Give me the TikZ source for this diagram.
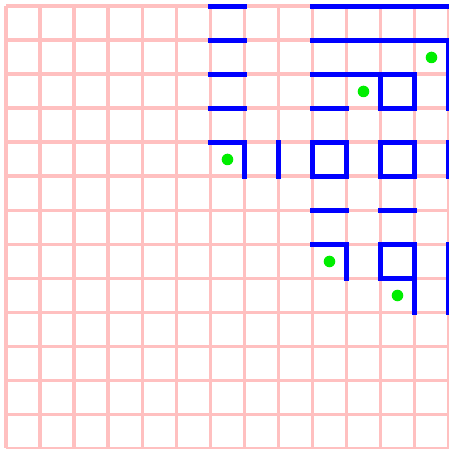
\documentclass[tikz,border=0pt]{standalone}
\usepackage{xcolor}
\usepackage{tikz}
\definecolor{gridpink}{RGB}{255,192,192}
\definecolor{wallblue}{RGB}{0,0,255}
\definecolor{dotgreen}{RGB}{0,238,0}
\tikzset{
  % the pale cell lattice
  lattice/.style = {draw=gridpink, line width=3.3pt},
  % a wall segment between two cells
  wall/.style    = {draw=wallblue, line width=3.7pt, line cap=rect},
  % a marked cell
  mark dot/.style = {circle, fill=dotgreen, inner sep=0pt, minimum size=3.4mm},
}
% a dot in the centre of cell (column, row)
\newcommand{\celldot}[3]{%
  \node[mark dot] (#1) at (#2+0.5,-#3-0.5) {};
}
\begin{document}
\begin{tikzpicture}
  \useasboundingbox (-0.19,0.19) rectangle (13.015,-13.015);
  \foreach \k in {0,...,13} {
    \draw[lattice] (\k,0) -- (\k,-13);
    \draw[lattice] (0,-\k) -- (13,-\k);
  }
  % horizontal walls
  \foreach \y in {0,1,2,3}
    \draw[wall] (6,-\y) -- (7,-\y);
  \draw[wall] (9,0) -- (13,0);
  \draw[wall] (9,-1) -- (13,-1);
  \draw[wall] (9,-2) -- (11,-2);
  \draw[wall] (9,-3) -- (10,-3);
  \draw[wall] (9,-6) -- (10,-6);
  \draw[wall] (11,-6) -- (12,-6);
  % corners and boxes
  \draw[wall] (11,-2) rectangle (12,-3);
  \draw[wall] (9,-4) rectangle (10,-5);
  \draw[wall] (11,-4) rectangle (12,-5);
  \draw[wall] (11,-7) rectangle (12,-8);
  \draw[wall] (6,-4) -- (7,-4) -- (7,-5);
  \draw[wall] (9,-7) -- (10,-7) -- (10,-8);
  % vertical walls
  \draw[wall] (8,-4) -- (8,-5);
  \draw[wall] (12,-8) -- (12,-9);
  \draw[wall] (13,-1) -- (13,-3);
  \draw[wall] (13,-4) -- (13,-5);
  \draw[wall] (13,-7) -- (13,-9);
  % marked cells
  \celldot{d1}{12}{1}
  \celldot{d2}{10}{2}
  \celldot{d3}{6}{4}
  \celldot{d4}{9}{7}
  \celldot{d5}{11}{8}
\end{tikzpicture}
\end{document}
